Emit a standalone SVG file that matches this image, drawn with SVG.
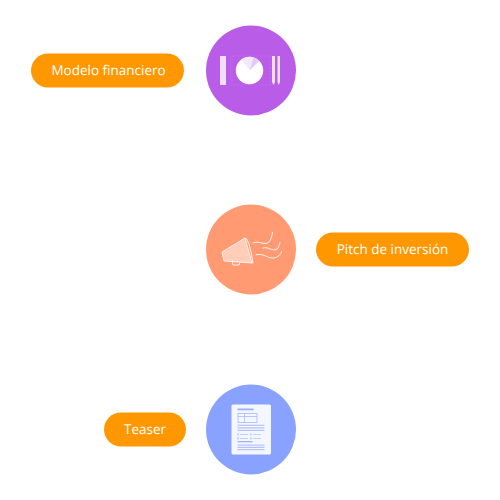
<svg xmlns="http://www.w3.org/2000/svg" width="500" height="500" viewBox="0 0 500 500">
<style>
.pill{fill:#ff9800}
.lbl{font-family:"Open Sans",sans-serif;font-size:13.500px;fill:#fff;text-anchor:middle;dominant-baseline:central;text-rendering:geometricPrecision}
.w{fill:none;stroke:#fff;stroke-linecap:round;stroke-width:1;stroke-opacity:.9}
.ln{fill:#b4c3ff}
.dk{fill:#9db0ff}
</style>
<g id="node-modelo">
<circle cx="251" cy="70.500" r="45" fill="#b95ce8"/>
<rect x="220" y="56" width="6" height="29" fill="#f0dffb"/>
<rect x="232" y="56" width="38" height="29" fill="none" stroke="#c985ec" stroke-width="0.500" stroke-dasharray="1.500 2"/>
<circle cx="249.500" cy="70.500" r="13.700" fill="#fff"/>
<path d="M249.500 70.500L253.300 57.300A13.700 13.700 0 0 0 241.500 59.500Z" fill="#f3e8fc"/>
<path d="M249.500 70.500L253.300 57.300A13.700 13.700 0 0 1 259.300 61Z" fill="#e3ccf8"/>
<path d="M272 56h3v26l-1.500 3l-1.500-3Z" fill="#f0dffb"/>
<path d="M277.500 56h2.500v26l-1.250 3l-1.250-3Z" fill="#f0dffb"/>
</g>
<g id="node-pitch">
<circle cx="251" cy="249.500" r="45" fill="#ff9a72"/>
<path d="M222 252L245 238L252 263L224 261Z" fill="#ffcdb8" stroke="#fff" stroke-width="0.800"/>
<path d="M245 238Q249 237 253 263" class="w"/>
<path d="M232 260L233 265H239L240 262" class="w"/>
<path d="M253 243C259 240 264 246 269 242C271 240 272 236 272.500 232.500" class="w"/>
<path d="M263 248C268 246 272 252 277 249C279 247 279 245 280 242.500" class="w"/>
<path d="M256 255C262 252 268 259 274 258C278 257 281 255 281.500 251.500" class="w"/>
</g>
<g id="node-teaser">
<circle cx="251" cy="429.500" r="45" fill="#8aa2ff"/>
<rect x="231.500" y="404.500" width="39.500" height="50" rx="1.500" fill="#f4f7ff"/>
<rect x="237.500" y="408.500" width="16" height="1.800" class="dk"/>
<rect x="238" y="413.500" width="19" height="9" fill="none" stroke="#9db0ff" stroke-width="0.700"/>
<path d="M238 416.500h19M244.500 413.500v9" fill="none" stroke="#9db0ff" stroke-width="0.700"/>
<rect x="237.500" y="424.700" width="27" height="1.200" class="ln"/>
<rect x="237.500" y="427.300" width="27" height="1.200" class="ln"/>
<rect x="237.500" y="429.800" width="27" height="1.200" class="ln"/>
<rect x="237.500" y="433.300" width="1" height="2.200" class="dk"/>
<rect x="240" y="434" width="8" height="0.800" class="ln"/>
<rect x="250.500" y="433.300" width="1" height="2.200" class="dk"/>
<rect x="253" y="434" width="8" height="0.800" class="ln"/>
<rect x="237.500" y="437.300" width="1" height="2.200" class="dk"/>
<rect x="240" y="438" width="8" height="0.800" class="ln"/>
<rect x="250.500" y="437.300" width="1" height="2.200" class="dk"/>
<rect x="253" y="438" width="8" height="0.800" class="ln"/>
<rect x="237.500" y="441" width="15" height="1.300" class="dk"/>
<rect x="237.500" y="444.500" width="27" height="1.200" class="ln"/>
<rect x="237.500" y="446.800" width="27" height="1.200" class="ln"/>
<rect x="237.500" y="449" width="27" height="1.200" class="ln"/>
</g>
<g id="label-modelo">
<rect class="pill" x="31" y="53.500" width="153" height="34" rx="17"/>
<text class="lbl" x="108.500" y="69.800">Modelo financiero</text>
</g>
<g id="label-pitch">
<rect class="pill" x="316" y="232.500" width="153" height="34" rx="17"/>
<text class="lbl" x="392.500" y="248.800">Pitch de inversión</text>
</g>
<g id="label-teaser">
<rect class="pill" x="104" y="412.500" width="82" height="34" rx="17"/>
<text class="lbl" x="145" y="428.800">Teaser</text>
</g>
<g id="connectors"/>
</svg>
